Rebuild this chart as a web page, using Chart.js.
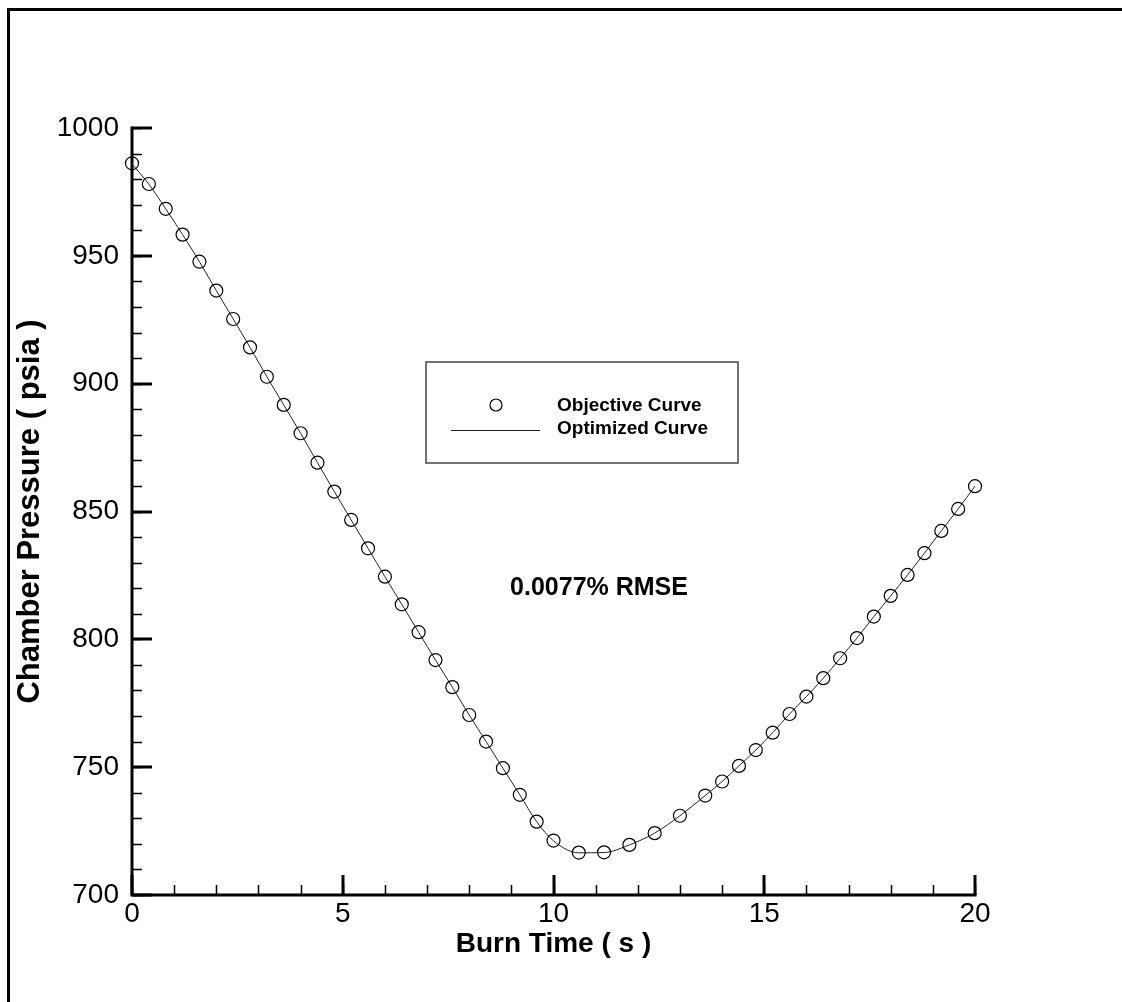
<!DOCTYPE html>
<html>
<head>
<meta charset="utf-8">
<script src="https://cdn.jsdelivr.net/npm/chart.js@4.4.0/dist/chart.umd.min.js"></script>
<style>
  html, body { margin: 0; padding: 0; background: #fff; }
  #wrap { width: 1122px; height: 1002px; }
</style>
</head>
<body>
<div id="wrap"><canvas id="myChart" width="1122" height="1002"></canvas></div>
<script>
// burn time samples (s)
const burnTime = [0, 0.4, 0.8, 1.2, 1.6, 2.0, 2.4, 2.8, 3.2, 3.6, 4.0, 4.4, 4.8, 5.2, 5.6, 6.0,
  6.4, 6.8, 7.2, 7.6, 8.0, 8.4, 8.8, 9.2, 9.6, 10.0, 10.6, 11.2, 11.8, 12.4, 13.0, 13.6,
  14.0, 14.4, 14.8, 15.2, 15.6, 16.0, 16.4, 16.8, 17.2, 17.6, 18.0, 18.4, 18.8, 19.2, 19.6, 20.0];

// objective chamber pressure (psia)
const objective = [986.2, 978.1, 968.4, 958.3, 947.7, 936.4, 925.3, 914.2, 902.7, 891.7, 880.6,
  869.1, 857.8, 846.7, 835.6, 824.5, 813.7, 802.8, 791.9, 781.3, 770.4, 760.0, 749.6, 739.2,
  728.7, 721.3, 716.6, 716.7, 719.6, 724.2, 731.0, 738.9, 744.4, 750.5, 756.7, 763.5, 770.8,
  777.6, 784.8, 792.6, 800.5, 808.9, 817.0, 825.2, 833.7, 842.4, 851.0, 859.9];

// optimized curve (psia)
const optimized = [985.9, 978.0, 968.4, 958.3, 947.7, 936.4, 925.3, 914.2, 902.7, 891.7, 880.6,
  869.1, 857.8, 846.7, 835.6, 824.5, 813.7, 802.8, 791.9, 781.3, 770.4, 760.0, 749.6, 739.2,
  728.7, 721.2, 716.5, 716.6, 719.6, 724.2, 731.0, 738.9, 744.4, 750.5, 756.7, 763.5, 770.8,
  777.6, 784.8, 792.6, 800.5, 808.9, 817.0, 825.2, 833.7, 842.4, 851.0, 859.9];

const xTicks = [0, 5, 10, 15, 20];
const yTicks = [700, 750, 800, 850, 900, 950, 1000];

const FONT = "'Liberation Sans', Arial, sans-serif";

const paper = {
  id: 'paper',
  beforeDraw(chart) {
    const c = chart.ctx;
    c.save();
    c.fillStyle = '#fff';
    c.fillRect(0, 0, chart.width, chart.height);
    // outer frame (left + top)
    c.strokeStyle = '#000';
    c.lineWidth = 3;
    c.beginPath();
    c.moveTo(8.5, chart.height);
    c.lineTo(8.5, 9.5);
    c.lineTo(chart.width, 9.5);
    c.stroke();
    c.restore();
  },
  beforeDatasetsDraw(chart) {
    const c = chart.ctx;
    const xs = chart.scales.x, ys = chart.scales.y;
    const a = chart.chartArea;
    c.save();
    c.strokeStyle = '#000';
    // minor ticks
    c.lineWidth = 1.5;
    c.beginPath();
    for (let v = xs.min; v <= xs.max; v += 1) {
      const px = Math.round(xs.getPixelForValue(v)) + 0.5;
      c.moveTo(px, a.bottom); c.lineTo(px, a.bottom - 10);
    }
    for (let v = ys.min; v <= ys.max; v += 10) {
      const py = Math.round(ys.getPixelForValue(v)) + 0.5;
      c.moveTo(a.left, py); c.lineTo(a.left + 10, py);
    }
    c.stroke();
    // major ticks
    c.lineWidth = 3;
    c.beginPath();
    xTicks.forEach(v => {
      const px = Math.round(xs.getPixelForValue(v));
      c.moveTo(px, a.bottom); c.lineTo(px, a.bottom - 20);
    });
    yTicks.forEach(v => {
      const py = Math.round(ys.getPixelForValue(v));
      c.moveTo(a.left, py); c.lineTo(a.left + 20, py);
    });
    c.stroke();
    // axis lines
    c.lineWidth = 3;
    c.beginPath();
    c.moveTo(a.left, a.top - 1.5);
    c.lineTo(a.left, a.bottom);
    c.lineTo(a.right + 1.5, a.bottom);
    c.stroke();
    c.restore();
  },
  afterDraw(chart) {
    const c = chart.ctx;
    c.save();
    // legend box
    c.strokeStyle = '#444';
    c.lineWidth = 1.5;
    c.strokeRect(426, 362, 312, 101);
    c.strokeStyle = '#000';
    c.lineWidth = 1.2;
    c.beginPath();
    c.arc(496, 405, 6, 0, Math.PI * 2);
    c.stroke();
    c.strokeStyle = '#222';
    c.lineWidth = 1;
    c.beginPath();
    c.moveTo(451, 430.5); c.lineTo(540, 430.5);
    c.stroke();
    c.fillStyle = '#000';
    c.font = 'bold 19px ' + FONT;
    c.textAlign = 'left';
    c.textBaseline = 'middle';
    c.fillText('Objective Curve', 557, 406);
    c.fillText('Optimized Curve', 557, 429);
    // RMSE note
    c.font = 'bold 25px ' + FONT;
    c.textAlign = 'center';
    c.fillText('0.0077% RMSE', 599, 588);
    c.restore();
  }
};

const ctx = document.getElementById('myChart');

new Chart(ctx, {
  type: 'scatter',
  data: {
    datasets: [{
      label: 'Objective Curve',
      data: burnTime.map((t, i) => ({ x: t, y: objective[i] })),
      showLine: false,
      pointStyle: 'circle',
      pointRadius: 6.5,
      pointBorderWidth: 1.2,
      pointBorderColor: '#000',
      pointBackgroundColor: 'rgba(0,0,0,0)',
      clip: false,
      order: 1
    }, {
      label: 'Optimized Curve',
      data: burnTime.map((t, i) => ({ x: t, y: optimized[i] })),
      showLine: true,
      borderColor: '#222',
      borderWidth: 1,
      pointRadius: 0,
      cubicInterpolationMode: 'monotone',
      clip: false,
      order: 2
    }]
  },
  options: {
    responsive: false,
    animation: false,
    layout: { padding: { top: 128, right: 147, left: 0, bottom: 0 } },
    plugins: {
      legend: { display: false },
      tooltip: { enabled: false }
    },
    scales: {
      x: {
        type: 'linear',
        min: 0,
        max: 20,
        afterBuildTicks: s => { s.ticks = xTicks.map(v => ({ value: v })); },
        afterFit: s => { s.height = 107; },
        grid: { display: false, drawTicks: false },
        border: { display: false },
        ticks: {
          color: '#000',
          padding: 2,
          maxRotation: 0,
          callback: v => String(v),
          font: { family: FONT, size: 28 }
        },
        title: {
          display: true,
          text: 'Burn Time ( s )',
          color: '#000',
          padding: { top: 0, bottom: 41 },
          font: { family: FONT, size: 28, weight: 'bold' }
        }
      },
      y: {
        type: 'linear',
        min: 700,
        max: 1000,
        afterBuildTicks: s => { s.ticks = yTicks.map(v => ({ value: v })); },
        afterFit: s => { s.width = 132; },
        grid: { display: false, drawTicks: false },
        border: { display: false },
        ticks: {
          color: '#000',
          padding: 13,
          callback: v => String(v),
          font: { family: FONT, size: 28 }
        },
        title: {
          display: true,
          text: 'Chamber Pressure ( psia )',
          color: '#000',
          padding: { top: 12, bottom: 0 },
          font: { family: FONT, size: 31, weight: 'bold' }
        }
      }
    }
  },
  plugins: [paper]
});
</script>
</body>
</html>
